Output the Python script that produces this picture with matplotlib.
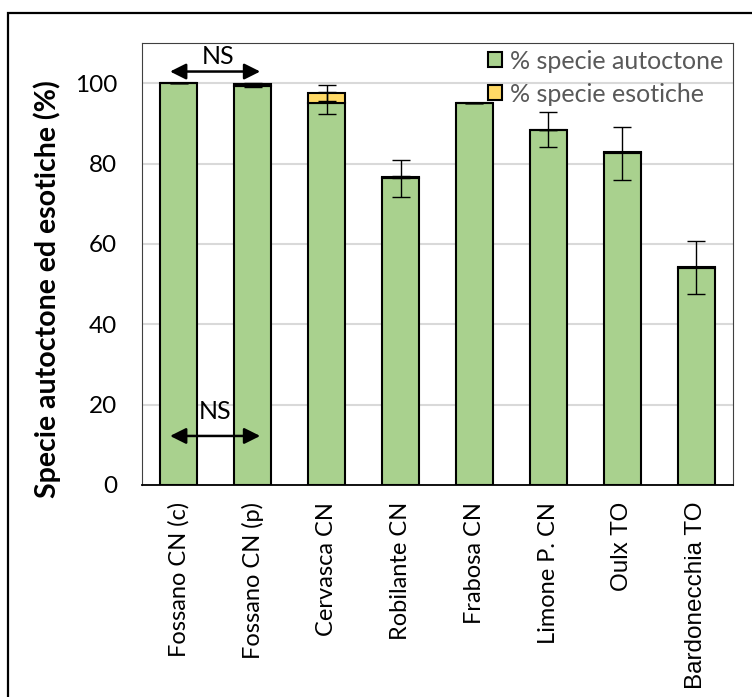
import numpy as np
import matplotlib
matplotlib.use("Agg")
import matplotlib.pyplot as plt
from matplotlib.patches import Patch, Rectangle

plt.rcParams["font.family"] = ["Lato", "DejaVu Sans"]

sites = [
    "Fossano CN (c)",
    "Fossano CN (p)",
    "Cervasca CN",
    "Robilante CN",
    "Frabosa CN",
    "Limone P. CN",
    "Oulx TO",
    "Bardonecchia TO",
]
native = [100.0, 99.4, 95.0, 76.3, 95.0, 88.4, 82.6, 54.1]
exotic = [0.0, 0.4, 2.5, 0.4, 0.0, 0.0, 0.2, 0.1]
native_err = [0.0, 0.4, 2.7, 4.7, 0.0, 4.4, 6.6, 6.5]
exotic_err = [0.0, 0.3, 2.0, 0.3, 0.0, 0.0, 0.0, 0.0]

GREEN = "#a9d18e"
YELLOW = "#ffd966"

fig = plt.figure(figsize=(7.52, 6.97), dpi=100)
ax = fig.add_axes([0.1888, 0.3042, 0.786, 0.6341])

x = np.arange(len(sites))
native = np.array(native)
exotic = np.array(exotic)

ax.bar(x, native, width=0.5, color=GREEN, edgecolor="black", linewidth=1.5, zorder=2)
ax.bar(x, exotic, width=0.5, bottom=native, color=YELLOW, edgecolor="black",
       linewidth=1.5, zorder=2)
ax.errorbar(x, native, yerr=native_err, fmt="none", ecolor="black", elinewidth=1,
            capsize=6.5, capthick=1, zorder=3)
ax.errorbar(x, native + exotic, yerr=exotic_err, fmt="none", ecolor="black",
            elinewidth=1, capsize=6.5, capthick=1, zorder=3)

ax.set_xlim(-0.5, len(sites) - 0.5)
ax.set_ylim(0, 110)
ax.set_yticks([0, 20, 40, 60, 80, 100])
ax.yaxis.grid(True, color="#d9d9d9", linewidth=1.5, zorder=0)
ax.set_axisbelow(True)
ax.tick_params(axis="y", length=0, labelsize=17.5, pad=18)
ax.tick_params(axis="x", length=0, pad=12)
ax.set_xticks(x)
ax.set_xticklabels(sites, rotation=90, fontsize=17)
for lbl in ax.get_xticklabels()[-2:]:
    lbl.set_family("Liberation Sans")
    lbl.set_fontsize(17.5)

for side in ["left", "right", "top"]:
    ax.spines[side].set_color("#404040")
    ax.spines[side].set_linewidth(0.8)
ax.spines["bottom"].set_color("black")
ax.spines["bottom"].set_linewidth(1.3)

ax.set_ylabel("Specie autoctone ed esotiche (%)", fontsize=20.5, fontweight="bold")
ax.yaxis.set_label_coords(-0.137, 0.443)

# non-significant comparisons between the two Fossano sites
arrow = dict(arrowstyle="<|-|>", color="black", lw=1.8, mutation_scale=24,
             shrinkA=0, shrinkB=0)
ax.annotate("", xy=(-0.12, 102.9), xytext=(1.1, 102.9), arrowprops=arrow)
ax.text(0.53, 106.6, "NS", ha="center", va="center", fontsize=18)
ax.annotate("", xy=(-0.12, 12.2), xytext=(1.1, 12.2), arrowprops=arrow)
ax.text(0.49, 18.4, "NS", ha="center", va="center", fontsize=18)

handles = [
    Patch(facecolor=GREEN, edgecolor="black", linewidth=1.5),
    Patch(facecolor=YELLOW, edgecolor="black", linewidth=1.5),
]
leg = ax.legend(handles, ["% specie autoctone", "% specie esotiche"],
                loc="upper left", bbox_to_anchor=(0.585, 0.985), frameon=False,
                fontsize=18, handlelength=0.55, handleheight=0.55,
                handletextpad=0.35, labelspacing=0.4, borderaxespad=0,
                borderpad=0)
for t in leg.get_texts():
    t.set_color("#595959")

# outer border around the whole chart
fig.patches.append(Rectangle((8 / 752, -0.05), 1.2, 1 - 13 / 697 + 0.05,
                             transform=fig.transFigure, fill=False,
                             edgecolor="black", linewidth=1.6))

fig.savefig("out.png", dpi=100)
